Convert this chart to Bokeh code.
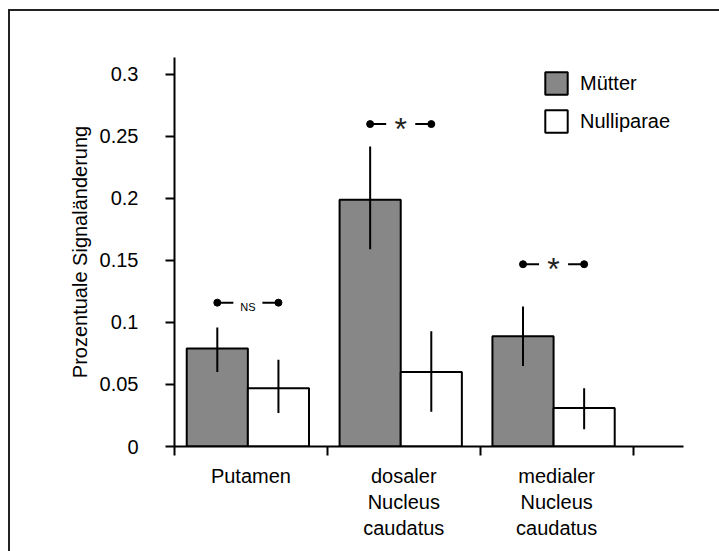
import numpy as np
from bokeh.plotting import figure
from bokeh.models import ColumnDataSource, FixedTicker, Legend, LegendItem
from bokeh.transform import dodge
from bokeh.core.properties import value
from bokeh.embed import file_html
from bokeh.resources import INLINE

# ---------------- data ----------------
categories = ["Putamen", "dosaler\nNucleus\ncaudatus", "medialer\nNucleus\ncaudatus"]
series = ["Mütter", "Nulliparae"]

muetter_mean = [0.079, 0.199, 0.089]
muetter_low = [0.060, 0.159, 0.065]
muetter_high = [0.096, 0.242, 0.113]

nulli_mean = [0.047, 0.060, 0.031]
nulli_low = [0.027, 0.028, 0.014]
nulli_high = [0.070, 0.093, 0.047]

sig_y = [0.116, 0.260, 0.147]
sig_labels = ["NS", "*", "*"]

y_ticks = [0, 0.05, 0.1, 0.15, 0.2, 0.25, 0.3]
y_tick_labels = ["0", "0.05", "0.1", "0.15", "0.2", "0.25", "0.3"]
y_axis_title = "Prozentuale Signaländerung"

# ---------------- layout ----------------
FONT = "Liberation Sans"
FS = "20px"
GRAY = "#878787"
OFF_M = -0.22
OFF_N = 0.18
OFF_C = -0.02
GAP = 0.095
BAR_W = 0.40

xc = list(np.arange(len(categories)) + 0.5)
bounds = list(range(len(categories) + 1))

src = ColumnDataSource(dict(
    xc=xc, m=muetter_mean, ml=muetter_low, mh=muetter_high,
    n=nulli_mean, nl=nulli_low, nh=nulli_high, sy=sig_y, sl=sig_labels,
))

p = figure(frame_width=509, frame_height=389,
           x_range=(0, 3.33), y_range=(0, 0.3137),
           output_backend="svg", toolbar_location=None,
           min_border_left=164, min_border_top=46,
           min_border_bottom=105, min_border_right=36,
           margin=(9, 0, 0, 8),
           styles={"border-left": "2px solid #222", "border-top": "2px solid #222"},
           background_fill_color="white", border_fill_color="white")
p.outline_line_color = None
p.xgrid.grid_line_color = None
p.ygrid.grid_line_color = None

xr = p.x_range
r1 = p.vbar(x=dodge("xc", OFF_M, range=xr), top="m", bottom=0, width=BAR_W,
            fill_color=GRAY, line_color="black", line_width=2, source=src)
r2 = p.vbar(x=dodge("xc", OFF_N, range=xr), top="n", bottom=0, width=BAR_W,
            fill_color="white", line_color="black", line_width=2, source=src)

p.segment(x0=dodge("xc", OFF_M, range=xr), y0="ml", x1=dodge("xc", OFF_M, range=xr), y1="mh",
          line_color="black", line_width=2, source=src)
p.segment(x0=dodge("xc", OFF_N, range=xr), y0="nl", x1=dodge("xc", OFF_N, range=xr), y1="nh",
          line_color="black", line_width=2, source=src)

# significance brackets
p.segment(x0=dodge("xc", OFF_M, range=xr), y0="sy", x1=dodge("xc", OFF_C - GAP, range=xr), y1="sy",
          line_color="black", line_width=2, source=src)
p.segment(x0=dodge("xc", OFF_C + GAP, range=xr), y0="sy", x1=dodge("xc", OFF_N, range=xr), y1="sy",
          line_color="black", line_width=2, source=src)
p.scatter(x=dodge("xc", OFF_M, range=xr), y="sy", size=7, color="black", source=src)
p.scatter(x=dodge("xc", OFF_N, range=xr), y="sy", size=7, color="black", source=src)

ns_idx = [i for i, s in enumerate(sig_labels) if s != "*"]
st_idx = [i for i, s in enumerate(sig_labels) if s == "*"]
src_ns = ColumnDataSource(dict(x=[xc[i] for i in ns_idx], y=[sig_y[i] for i in ns_idx],
                               t=[sig_labels[i] for i in ns_idx]))
src_st = ColumnDataSource(dict(x=[xc[i] for i in st_idx], y=[sig_y[i] for i in st_idx],
                               t=[sig_labels[i] for i in st_idx]))
p.text(x=dodge("x", OFF_C, range=xr), y="y", text="t", source=src_ns,
       text_font=value(FONT), text_font_size="11px", text_align="center",
       text_baseline="alphabetic", y_offset=4, text_color="black")
p.text(x=dodge("x", OFF_C, range=xr), y="y", text="t", source=src_st,
       text_font=value(FONT), text_font_size="32px", text_align="center",
       text_baseline="alphabetic", y_offset=5, text_color="#222")

# x axis
xa = p.xaxis[0]
xa.ticker = FixedTicker(ticks=xc, minor_ticks=bounds)
xa.major_label_overrides = {float(x): c for x, c in zip(xc, categories)}
xa.major_tick_out = 0
xa.major_tick_in = 0
xa.minor_tick_out = 9
xa.minor_tick_in = 0
xa.minor_tick_line_width = 2
xa.minor_tick_line_color = "black"
xa.axis_line_width = 2
xa.axis_line_color = "black"
xa.major_label_text_font = FONT
xa.major_label_text_font_size = FS
xa.major_label_text_color = "black"
xa.major_label_text_line_height = 1.2
xa.major_label_standoff = 9

# y axis
ya = p.yaxis[0]
ya.ticker = FixedTicker(ticks=y_ticks)
ya.major_label_overrides = {float(t): l for t, l in zip(y_ticks, y_tick_labels)}
ya.major_tick_out = 9
ya.major_tick_in = 0
ya.minor_tick_out = 0
ya.minor_tick_in = 0
ya.major_tick_line_width = 2
ya.major_tick_line_color = "black"
ya.axis_line_width = 2
ya.axis_line_color = "black"
ya.major_label_text_font = FONT
ya.major_label_text_font_size = FS
ya.major_label_text_color = "black"
ya.major_label_standoff = 27
ya.axis_label = y_axis_title
ya.axis_label_text_font = FONT
ya.axis_label_text_font_size = "20px"
ya.axis_label_text_font_style = "normal"
ya.axis_label_text_color = "black"
ya.axis_label_standoff = 6

legend = Legend(items=[LegendItem(label=series[0], renderers=[r1]),
                       LegendItem(label=series[1], renderers=[r2])],
                location=(368, 311), padding=0, margin=0,
                border_line_color=None, background_fill_alpha=0,
                glyph_width=28, glyph_height=28, label_height=28,
                spacing=10, label_standoff=10,
                label_text_font=FONT, label_text_font_size=FS,
                label_text_color="black")
p.add_layout(legend)

open("out.html", "w").write(file_html(p, INLINE))
